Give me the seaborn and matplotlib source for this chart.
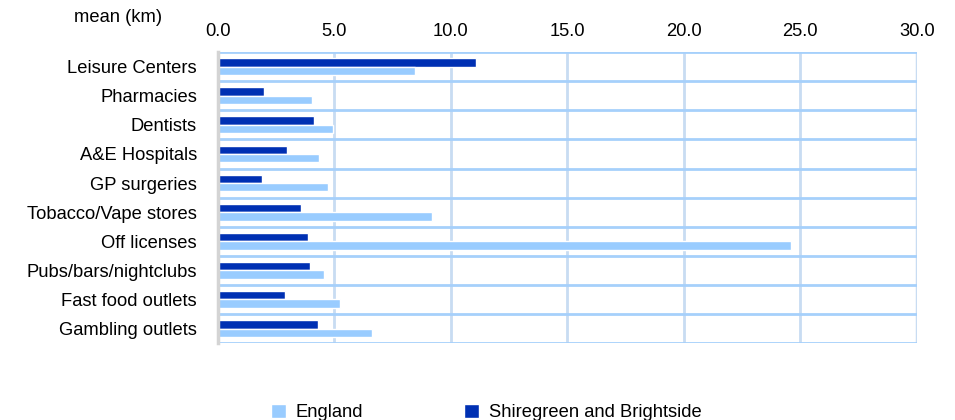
import pandas as pd
import matplotlib.pyplot as plt
import seaborn as sns
from matplotlib.patches import Patch

# Values (mean distance, km)
categories = ["Leisure Centers", "Pharmacies", "Dentists", "A&E Hospitals", "GP surgeries",
              "Tobacco/Vape stores", "Off licenses", "Pubs/bars/nightclubs",
              "Fast food outlets", "Gambling outlets"]
england = [8.45, 4.03, 4.94, 4.33, 4.72, 9.18, 24.6, 4.55, 5.24, 6.61]
shiregreen = [11.07, 2.0, 4.12, 2.96, 1.89, 3.56, 3.86, 3.95, 2.88, 4.29]
xticks = [0, 5, 10, 15, 20, 25, 30]

df = pd.DataFrame({
    "Category": categories * 2,
    "Area": ["Shiregreen and Brightside"] * len(categories) + ["England"] * len(categories),
    "km": shiregreen + england,
})

sns.set_style("white")
plt.rcParams["font.family"] = ["Liberation Sans", "DejaVu Sans"]
plt.rcParams["text.color"] = "black"
plt.rcParams["xtick.color"] = "black"
plt.rcParams["ytick.color"] = "black"

dark = "#0030b3"
light = "#99ccff"
fs = 13.2

fig = plt.figure(figsize=(9.55, 4.2), dpi=100)
ax = fig.add_axes([0.228, 0.183, 0.732, 0.693])

sns.barplot(data=df, y="Category", x="km", hue="Area",
            hue_order=["Shiregreen and Brightside", "England"],
            palette=[dark, light], width=0.58, saturation=1,
            orient="h", ax=ax, legend=False)

ax.set_xlim(0, 30)
ax.set_ylim(len(categories) - 0.5, -0.5)
ax.set_xticks(xticks)
ax.set_xticklabels([f"{v:.1f}" for v in xticks], fontsize=fs)
ax.xaxis.tick_top()
ax.tick_params(axis="x", length=0, pad=9)
ax.tick_params(axis="y", length=0, pad=15, labelsize=fs)
ax.set_xlabel("")
ax.set_ylabel("")

# grid: vertical light lines, horizontal lines between categories
ax.set_axisbelow(True)
ax.grid(axis="x", color="#c8dcf2", linewidth=2)
ax.set_yticks([i + 0.5 for i in range(-1, len(categories))], minor=True)
ax.grid(axis="y", which="minor", color="#a6d0fb", linewidth=2)
ax.grid(axis="y", which="major", visible=False)

for side in ["top", "right", "bottom"]:
    ax.spines[side].set_visible(False)
ax.spines["left"].set_color("#d4d4d4")
ax.spines["left"].set_linewidth(2.5)
ax.axvline(30, color="#c8dcf2", linewidth=2.5, zorder=0.5)

fig.text(0.124, 0.958, "mean (km)", ha="center", va="center", fontsize=fs)

handles = [Patch(facecolor=light, label="England"),
           Patch(facecolor=dark, label="Shiregreen and Brightside")]
fig.legend(handles=handles, loc="center", bbox_to_anchor=(0.509, 0.018), ncol=2,
           frameon=False, fontsize=fs, handlelength=0.85, handleheight=0.85,
           handletextpad=0.5, columnspacing=5.5)

fig.savefig("out.png", dpi=100)
